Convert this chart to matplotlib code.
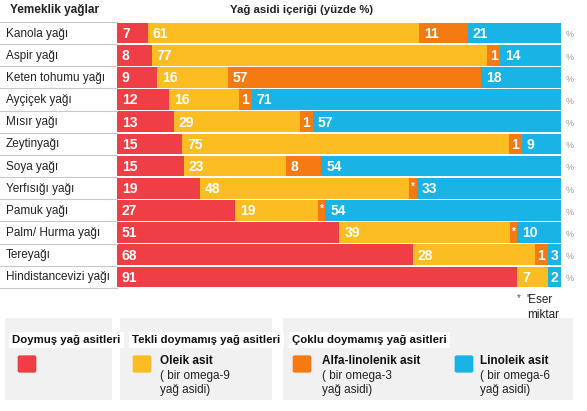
import numpy as np
import matplotlib.pyplot as plt
import matplotlib.transforms as mtransforms
from matplotlib.patches import Rectangle, FancyBboxPatch

plt.rcParams['font.family'] = ['Liberation Sans', 'DejaVu Sans']

oils = ['Kanola yağı', 'Aspir yağı', 'Keten tohumu yağı', 'Ayçiçek yağı', 'Mısır yağı',
        'Zeytinyağı', 'Soya yağı', 'Yerfısığı yağı', 'Pamuk yağı', 'Palm/ Hurma yağı',
        'Tereyağı', 'Hindistancevizi yağı']
doymus = [7, 8, 9, 12, 13, 15, 15, 19, 27, 51, 68, 91]
oleik = [61, 77, 16, 16, 29, 75, 23, 48, 19, 39, 28, 7]
alfa = [11, 1, 57, 1, 1, 1, 8, 0, 0, 0, 1, 0]
eser = [False, False, False, False, False, False, False, True, True, True, False, False]
linoleik = [21, 14, 18, 71, 57, 9, 54, 33, 54, 10, 3, 2]

c_red = '#ef3e45'
c_yel = '#fbbd22'
c_org = '#f57a12'
c_blu = '#1ab3e6'

W, H = 587, 411
fig = plt.figure(figsize=(W / 100, H / 100), dpi=100)

def fx(px):
    return px / W

def fy(py):
    return 1 - py / H

# bar area in pixels
x0, x1, y0, y1 = 117, 561, 22, 288
ax = fig.add_axes([fx(x0), fy(y1), fx(x1 - x0), (y1 - y0) / H])

n = len(oils)
ypos = np.arange(n)

# the original graphic widens tiny segments so their labels fit
min_w = 3.0
trace_w = 1.8

def disp(vals):
    v = np.array(vals, float)
    return np.where(v > 0, np.maximum(v, min_w), 0.0)

d_red = disp(doymus)
d_yel = disp(oleik)
d_org = disp(alfa) + np.array(eser) * trace_w
d_blu = disp(linoleik)
scale = 100.0 / (d_red + d_yel + d_org + d_blu)

segments = [
    (d_red * scale, c_red, doymus),
    (d_yel * scale, c_yel, oleik),
    (d_org * scale, c_org, alfa),
    (d_blu * scale, c_blu, linoleik),
]

left = np.zeros(n)
for k, (w, col, labs) in enumerate(segments):
    ax.barh(ypos, w, left=left, height=0.93, color=col, edgecolor='none')
    for i in range(n):
        if w[i] <= 0:
            continue
        if k == 2 and eser[i]:
            ax.text(left[i] + w[i] / 2, i - 0.05, '*', color='white', ha='center', va='center',
                    fontsize=7, fontweight='bold')
            continue
        txt = str(labs[i])
        if w[i] < 4.5:
            ax.text(left[i] + w[i] / 2, i + 0.04, txt, color='white', ha='center', va='center',
                    fontsize=10, fontweight='bold')
        else:
            ax.text(left[i] + 1.1, i + 0.04, txt, color='white', ha='left', va='center',
                    fontsize=10, fontweight='bold')
    left = left + w

ax.set_xlim(0, 100)
ax.set_ylim(n - 0.5, -0.5)
ax.axis('off')

# row labels, separators and % signs
tr = mtransforms.blended_transform_factory(fig.transFigure, ax.transData)
for i, name in enumerate(oils):
    ax.text(fx(6), i + 0.02, name, transform=tr, ha='left', va='center', fontsize=8.5,
            color='#222222')
    ax.text(fx(566), i + 0.08, '%', transform=tr, ha='left', va='center', fontsize=6.5,
            color='#999999')
for b in np.arange(-0.5, n - 0.4, 1):
    ax.plot([0, fx(x0)], [b, b], transform=tr, color='#c8c8c8', lw=0.8, clip_on=False)

# headers
fig.text(fx(10), fy(10), 'Yemeklik yağlar', fontsize=8.5, fontweight='bold', va='center',
         color='#222222')
fig.text(fx(302), fy(10), 'Yağ asidi içeriği (yüzde %)', fontsize=8.2, fontweight='bold',
         va='center', ha='center', color='#222222')

# footnote
fig.text(fx(517), fy(298), '*', fontsize=7, va='center', color='#555555')
fig.text(fx(526), fy(300), "'Eser", fontsize=8.5, va='center', color='#222222')
fig.text(fx(527), fy(315), 'miktar', fontsize=8.5, va='center', color='#222222')

# legend boxes
for bx0, bx1 in [(5, 112), (120, 272), (283, 573)]:
    fig.add_artist(Rectangle((fx(bx0), fy(400)), fx(bx1 - bx0), (400 - 318) / H,
                             transform=fig.transFigure, color='#f1f1f1', lw=0, zorder=0))

heads = [(12, 'Doymuş yağ asitleri'), (132, 'Tekli doymamış yağ asitleri'),
         (292, 'Çoklu doymamış yağ asitleri')]
for hx, ht in heads:
    fig.text(fx(hx), fy(340), ht, fontsize=8.2, fontweight='bold', va='center', color='#111111',
             bbox=dict(facecolor='white', edgecolor='none', pad=2.5))

swatches = [(18, c_red), (133, c_yel), (293, c_org), (455, c_blu)]
for sx, col in swatches:
    fig.add_artist(FancyBboxPatch((fx(sx + 2), fy(371)), fx(14), 14 / H,
                                  boxstyle='round,pad=0.004', transform=fig.transFigure,
                                  facecolor=col, edgecolor='none'))

descs = [(160, 'Oleik asit', '( bir omega-9', 'yağ asidi)'),
         (322, 'Alfa-linolenik asit', '( bir omega-3', 'yağ asidi)'),
         (480, 'Linoleik asit', '( bir omega-6', 'yağ asidi)')]
for dx, t1, t2, t3 in descs:
    fig.text(fx(dx), fy(361), t1, fontsize=8.5, fontweight='bold', va='center', color='#111111')
    fig.text(fx(dx), fy(376), t2, fontsize=8.5, va='center', color='#222222')
    fig.text(fx(dx), fy(390), t3, fontsize=8.5, va='center', color='#222222')

fig.savefig('out.png', dpi=100, facecolor='white')
